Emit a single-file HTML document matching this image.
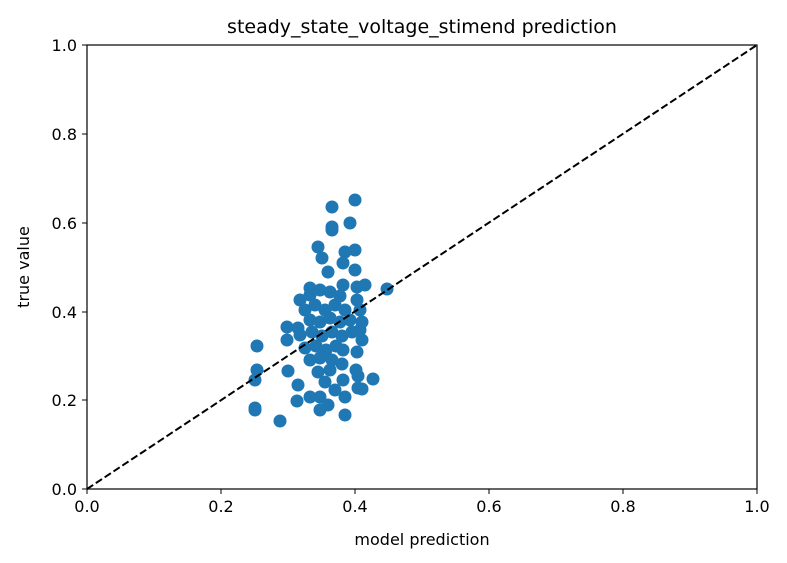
<!DOCTYPE html>
<html><head><style>
body{margin:0;background:#fff;}
svg{display:block;font-family:"DejaVu Sans","Liberation Sans",sans-serif;}
</style></head><body>
<svg width="787" height="563" viewBox="0 0 787 563">
<rect width="787" height="563" fill="#fff"/>
<g fill="#1f77b4">
<circle cx="355" cy="200" r="6.5"/><circle cx="332" cy="207" r="6.5"/><circle cx="332" cy="227" r="6.5"/><circle cx="332" cy="230" r="6.5"/><circle cx="350" cy="223" r="6.5"/>
<circle cx="318" cy="247" r="6.5"/><circle cx="322" cy="258" r="6.5"/><circle cx="355" cy="250" r="6.5"/><circle cx="345" cy="252" r="6.5"/><circle cx="343" cy="263" r="6.5"/><circle cx="355" cy="270" r="6.5"/><circle cx="328" cy="272" r="6.5"/><circle cx="387" cy="289" r="6.5"/><circle cx="365" cy="285" r="6.5"/><circle cx="310" cy="288" r="6.5"/>
<circle cx="257" cy="346" r="6.5"/><circle cx="257" cy="370" r="6.5"/><circle cx="255" cy="380" r="6.5"/><circle cx="255" cy="408" r="6.5"/><circle cx="255" cy="410" r="6.5"/><circle cx="280" cy="421" r="6.5"/><circle cx="297" cy="401" r="6.5"/><circle cx="288" cy="371" r="6.5"/><circle cx="345" cy="397" r="6.5"/><circle cx="345" cy="415" r="6.5"/><circle cx="328" cy="405" r="6.5"/><circle cx="310" cy="397" r="6.5"/><circle cx="373" cy="379" r="6.5"/><circle cx="362" cy="389" r="6.5"/><circle cx="298" cy="385" r="6.5"/><circle cx="358" cy="376" r="6.5"/><circle cx="287" cy="327" r="6.5"/><circle cx="287" cy="340" r="6.5"/><circle cx="357" cy="352" r="6.5"/><circle cx="362" cy="340" r="6.5"/><circle cx="362" cy="322" r="6.5"/><circle cx="330" cy="370" r="6.5"/><circle cx="320" cy="397" r="6.5"/><circle cx="320" cy="410" r="6.5"/>
<circle cx="343" cy="285" r="6.5"/><circle cx="357" cy="287" r="6.5"/><circle cx="357" cy="300" r="6.5"/><circle cx="360" cy="310" r="6.5"/><circle cx="360" cy="330" r="6.5"/><circle cx="343" cy="350" r="6.5"/><circle cx="356" cy="370" r="6.5"/><circle cx="343" cy="380" r="6.5"/><circle cx="358" cy="388" r="6.5"/><circle cx="298" cy="328" r="6.5"/>
<circle cx="300" cy="300" r="6.5"/><circle cx="310" cy="295" r="6.5"/><circle cx="320" cy="290" r="6.5"/><circle cx="330" cy="292" r="6.5"/><circle cx="340" cy="296" r="6.5"/>
<circle cx="305" cy="310" r="6.5"/><circle cx="315" cy="305" r="6.5"/><circle cx="325" cy="310" r="6.5"/><circle cx="335" cy="305" r="6.5"/><circle cx="345" cy="310" r="6.5"/>
<circle cx="310" cy="320" r="6.5"/><circle cx="320" cy="322" r="6.5"/><circle cx="330" cy="318" r="6.5"/><circle cx="340" cy="322" r="6.5"/><circle cx="350" cy="320" r="6.5"/>
<circle cx="300" cy="335" r="6.5"/><circle cx="312" cy="332" r="6.5"/><circle cx="322" cy="336" r="6.5"/><circle cx="332" cy="332" r="6.5"/><circle cx="342" cy="336" r="6.5"/><circle cx="352" cy="332" r="6.5"/>
<circle cx="305" cy="348" r="6.5"/><circle cx="316" cy="346" r="6.5"/><circle cx="326" cy="350" r="6.5"/><circle cx="336" cy="346" r="6.5"/>
<circle cx="310" cy="360" r="6.5"/><circle cx="320" cy="358" r="6.5"/><circle cx="332" cy="360" r="6.5"/><circle cx="342" cy="364" r="6.5"/>
<circle cx="318" cy="372" r="6.5"/><circle cx="325" cy="382" r="6.5"/><circle cx="335" cy="390" r="6.5"/>
</g>
<line x1="87" y1="489" x2="757" y2="45" stroke="#000" stroke-width="2" stroke-dasharray="7.4,3.2"/>
<rect x="87" y="45" width="670" height="444" fill="none" stroke="#000" stroke-width="1.2"/>
<g stroke="#000" stroke-width="1">
<line x1="87" y1="489" x2="87" y2="494"/><line x1="221" y1="489" x2="221" y2="494"/><line x1="355" y1="489" x2="355" y2="494"/><line x1="489" y1="489" x2="489" y2="494"/><line x1="623" y1="489" x2="623" y2="494"/><line x1="757" y1="489" x2="757" y2="494"/>
<line x1="82" y1="489" x2="87" y2="489"/><line x1="82" y1="400" x2="87" y2="400"/><line x1="82" y1="312" x2="87" y2="312"/><line x1="82" y1="223" x2="87" y2="223"/><line x1="82" y1="134" x2="87" y2="134"/><line x1="82" y1="45" x2="87" y2="45"/>
</g>
<g font-size="16" fill="#000" text-anchor="middle">
<text x="87" y="512">0.0</text><text x="221" y="512">0.2</text><text x="355" y="512">0.4</text><text x="489" y="512">0.6</text><text x="623" y="512">0.8</text><text x="757" y="512">1.0</text>
</g>
<g font-size="16" fill="#000" text-anchor="end">
<text x="77" y="495">0.0</text><text x="77" y="406">0.2</text><text x="77" y="318">0.4</text><text x="77" y="229">0.6</text><text x="77" y="140">0.8</text><text x="77" y="51">1.0</text>
</g>
<text x="422" y="545" font-size="16" text-anchor="middle">model prediction</text>
<text transform="translate(29,267) rotate(-90)" font-size="16" text-anchor="middle">true value</text>
<text x="422" y="33" font-size="19" text-anchor="middle">steady_state_voltage_stimend prediction</text>
</svg>
</body></html>
